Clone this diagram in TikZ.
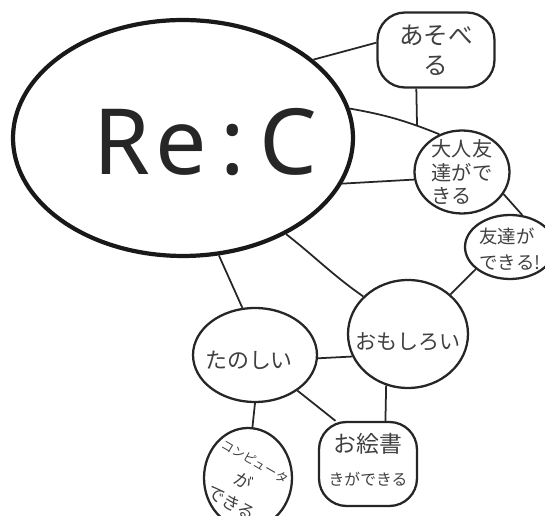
\documentclass[tikz,border=0pt]{standalone}
\usepackage{fontspec}
\usepackage{tikz}
\usetikzlibrary{shapes.geometric}
\newfontfamily\jpfont{Noto Sans CJK JP}
\newfontfamily\recfont{Noto Sans}
\newcommand{\jpsize}[2]{\jpfont\fontsize{#1}{#2}\selectfont}

\begin{document}
\begin{tikzpicture}[
    x=0.02cm, y=-0.02cm,
    core/.style={draw=black!90, ellipse, line width=2.4pt, inner sep=0pt, minimum width=6.8cm, minimum height=4.72cm},
    bubble/.style={draw=black!85, ellipse, line width=1.3pt, inner sep=0pt},
    blob/.style={draw=black!85, rectangle, rounded corners=0.55cm, line width=1.3pt, inner sep=0pt},
    link/.style={draw=black!85, line width=1pt},
    jp/.style={text=black!75, align=center},
    jpl/.style={text=black!75, align=left}
]
    \useasboundingbox (0,0) rectangle (545,516);
    \clip (0,0) rectangle (545,516);

    % Centre
    \node[core, label={[font=\recfont\fontsize{52}{56}\selectfont, text=black!85, xshift=0.44cm, yshift=-0.08cm]center:R\kern3pt e\kern8pt:\kern8pt C}] (rec) at (183,138) {};

    % Right branch
    \node[blob, minimum width=2.34cm, minimum height=1.5cm, label={[jp, font=\jpsize{14}{17}]center:あそべ\\る}] (asobe) at (436,50) {};
    \node[bubble, minimum width=1.9cm, minimum height=1.66cm, label={[jpl, font=\jpsize{11.5}{13.5}]center:大人友\\達がで\\きる}] (otona) at (462,172) {};
    \node[bubble, minimum width=1.8cm, minimum height=1.28cm, label={[jpl, font=\jpsize{10.5}{15}, yshift=-0.04cm]center:友達が\\できる!}] (tomo) at (510,247) {};

    % Lower branch
    \node[bubble, minimum width=2.4cm, minimum height=2.16cm, label={[jp, font=\jpsize{12}{14}, yshift=-0.16cm]center:おもしろい}] (omo) at (408,334) {};
    \node[bubble, minimum width=2.48cm, minimum height=1.88cm, label={[jp, font=\jpsize{12.5}{14}, xshift=-0.12cm, yshift=-0.1cm]center:たのしい}] (tano) at (255,355) {};
    \node[bubble, minimum width=1.76cm, minimum height=2cm, label={[jp, font=\jpsize{10}{14}, rotate=-30, xshift=-0.04cm, yshift=-0.14cm]center:{\jpsize{7}{14}コンピュータ}\\が\\できる}] (comp) at (248,478) {};
    \node[blob, minimum width=1.96cm, minimum height=1.68cm, label={[jp, font=\jpsize{9}{19}, yshift=0.08cm]center:{\jpsize{13}{19}お絵書}\\きができる}] (ekaki) at (368,464) {};

    % Links from the centre
    \draw[link] (rec.31) -- (asobe.173);
    \draw[link] (rec.10) to[bend left=6] coordinate[pos=0.76] (meet) (otona.121);
    \draw[link] (asobe.243) -- (meet);
    \draw[link] (rec.-16) -- (otona.189);
    \draw[link] (rec.-43) to[out=-38, in=145] (omo.140);
    \draw[link] (rec.-73) -- (tano.105);

    % Links between bubbles
    \draw[link] (otona.-28) -- (tomo.69);
    \draw[link] (tomo.213) -- (omo.43);
    \draw[link] (tano.-3) -- (omo.202);
    \draw[link] (tano.south) -- (comp.85);
    \draw[link] (tano.-40) -- (ekaki.127);
    \draw[link] (omo.247) -- (ekaki.68);

\end{tikzpicture}
\end{document}
